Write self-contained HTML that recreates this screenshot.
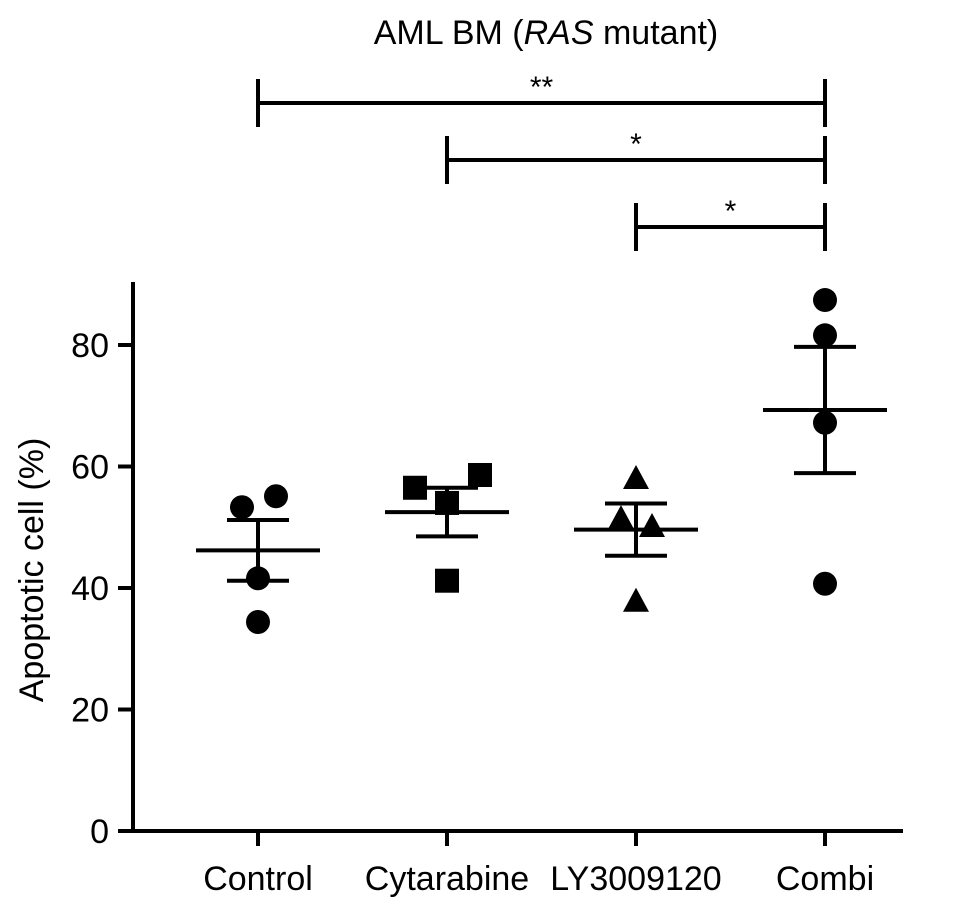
<!DOCTYPE html>
<html><head><meta charset="utf-8"><style>body{margin:0;background:#fff}svg{display:block}text{font-family:"Liberation Sans",Arial,sans-serif;fill:#000}</style></head>
<body>
<svg id="c" width="969" height="908" xmlns="http://www.w3.org/2000/svg"></svg>
<script>
const categories=["Control","Cytarabine","LY3009120","Combi"];
const shapes=["circle","square","triangle","circle"];
const points=[[53.3,55.1,41.6,34.4],[56.5,54,58.6,41.2],[58.1,51.5,50.2,37.9],[87.4,81.6,67.2,40.7]];
const pointOffsets=[[-16,18,0,0],[-32,0,33,0],[0,-15,16,0],[0,0,0,0]];
const means=[46.2,52.5,49.6,69.3];
const sems=[5,4,4.3,10.4];
const yTicks=[0,20,40,60,80];
const brackets=[[0,3,103,"**"],[1,3,160,"*"],[2,3,227,"*"]];
const NS="http://www.w3.org/2000/svg";
const svg=document.getElementById("c");
const X=i=>258+i*189;
const Y=v=>831-v*6.075;
function el(t,a,name){const e=document.createElementNS(NS,t);for(const k in a)e.setAttribute(k,a[k]);


svg.appendChild(e);return e;}
function ln(x1,y1,x2,y2,name){return el("line",{x1,y1,x2,y2,stroke:"#000","stroke-width":4},name);}
ln(133,282,133,833,"y-axis");ln(131,831,903,831,"x-axis");
yTicks.forEach(v=>{ln(118,Y(v),133,Y(v),"y-tick");const t=el("text",{x:109,y:Y(v)+12,"text-anchor":"end","font-size":34},"y-tick-label");t.textContent=v;});
categories.forEach((c,i)=>{ln(X(i),831,X(i),846,"x-tick");const t=el("text",{x:X(i),y:890,"text-anchor":"middle","font-size":34},"x-tick-label");t.textContent=c;});
const yt=el("text",{x:43,y:570,"text-anchor":"middle","font-size":34,transform:"rotate(-90 43 570)"},"y-axis-title");yt.textContent="Apoptotic cell (%)";
const tt=el("text",{x:546,y:44,"text-anchor":"middle","font-size":34},"chart-title");tt.innerHTML='AML BM (<tspan font-style="italic">RAS</tspan> mutant)';
points.forEach((arr,i)=>arr.forEach((v,j)=>{const x=X(i)+pointOffsets[i][j],y=Y(v);
if(shapes[i]=="circle")el("circle",{cx:x,cy:y,r:12},"data-point");
else if(shapes[i]=="square")el("rect",{x:x-12,y:y-12,width:24,height:24},"data-point");
else el("polygon",{points:`${x},${y-13} ${x-13},${y+11} ${x+13},${y+11}`},"data-point");}));
means.forEach((m,i)=>{const x=X(i);ln(x-62,Y(m),x+62,Y(m),"mean-line");
ln(x,Y(m-sems[i]),x,Y(m+sems[i]),"error-bar");ln(x-31,Y(m-sems[i]),x+31,Y(m-sems[i]),"error-cap");ln(x-31,Y(m+sems[i]),x+31,Y(m+sems[i]),"error-cap");});
brackets.forEach(b=>{const a=X(b[0]),c=X(b[1]),y=b[2];ln(a,y,c,y,"significance-bracket");ln(a,y-24,a,y+24,"bracket-end");ln(c,y-24,c,y+24,"bracket-end");
const t=el("text",{x:(a+c)/2,y:y-6,"text-anchor":"middle","font-size":30},"significance-label");t.textContent=b[3];});
</script>
</body></html>
